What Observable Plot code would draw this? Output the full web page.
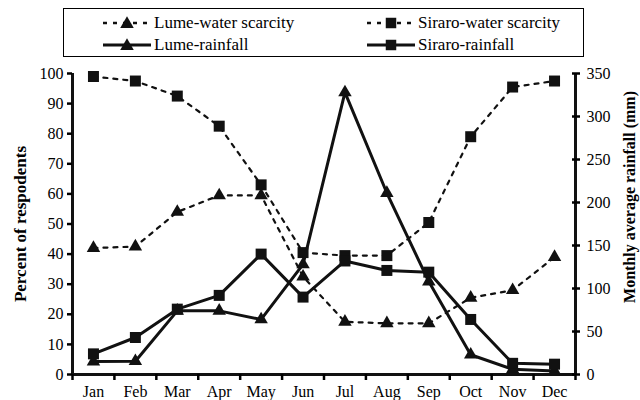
<!DOCTYPE html>
<html>
<head>
<meta charset="utf-8">
<script src="https://cdn.jsdelivr.net/npm/d3@7"></script>
<script src="https://cdn.jsdelivr.net/npm/@observablehq/plot@0.6"></script>
<style>
  body { margin: 0; background: #fff; font-family: "Liberation Serif", "Times New Roman", serif; }
  #wrap { width: 640px; }
  #legend { position: relative; width: 640px; height: 62px; }
  #legend .box { position: absolute; left: 63px; top: 8px; width: 521px; height: 49px; border: 1.5px solid #000; box-sizing: border-box; }
  #legend .item { position: absolute; display: flex; align-items: center; font-family: "Liberation Serif", "Times New Roman", serif; font-size: 17px; color: #000; height: 20px; }
  #legend svg { display: block; margin-right: 3px; }
  #chart svg, #chart svg text { font-family: "Liberation Serif", "Times New Roman", serif; }
</style>
</head>
<body>
<div id="wrap">
  <div id="legend"><div class="box"></div></div>
  <div id="chart"></div>
</div>
<script>
const months = ["Jan","Feb","Mar","Apr","May","Jun","Jul","Aug","Sep","Oct","Nov","Dec"];
// Percent of respondents reporting water scarcity
const lumeScarcity   = [42, 42.5, 54, 59.5, 59.5, 32.5, 17.5, 17, 17, 25.5, 28, 39];
const siraroScarcity = [99, 97.5, 92.5, 82.5, 63, 40.5, 39.5, 39.5, 50.5, 79, 95.5, 97.5];
// Monthly average rainfall (mm)
const lumeRain   = [15, 15.5, 74, 74, 64, 128, 328, 211, 108, 23, 6, 4];
const siraroRain = [24, 43, 76, 92, 140, 90, 132, 121, 119, 64, 13, 12];
const pctTicks  = [0,10,20,30,40,50,60,70,80,90,100];
const rainTicks = [0,50,100,150,200,250,300,350];
const rainMax = 350, pctMax = 100;

const series = [
  {name: "Lume-water scarcity",   key: "ls", symbol: "triangle", dashed: true},
  {name: "Siraro-water scarcity", key: "ss", symbol: "square",   dashed: true},
  {name: "Lume-rainfall",         key: "lr", symbol: "triangle", dashed: false},
  {name: "Siraro-rainfall",       key: "sr", symbol: "square",   dashed: false}
];

const toPct = v => v * pctMax / rainMax;
const table = months.map((m, i) => ({
  i: i + 1, m,
  ls: lumeScarcity[i], ss: siraroScarcity[i],
  lr: toPct(lumeRain[i]), sr: toPct(siraroRain[i])
}));
const xDomain = [0.5, months.length + 0.5];
const edges = d3.range(0, months.length + 1).map(k => k + 0.5);
const centers = months.map((m, i) => i + 1);
const FONT = '"Liberation Serif", "Times New Roman", serif';

const marks = [];
for (const s of series) {
  marks.push(Plot.line(table, {
    x: "i", y: s.key, stroke: "#111",
    strokeWidth: s.dashed ? 2.2 : 3,
    strokeDasharray: s.dashed ? "4,6" : null
  }));
}
for (const s of series) {
  marks.push(Plot.dot(table, {
    x: "i", y: s.key, symbol: s.symbol, fill: "#111", stroke: "none",
    r: s.symbol === "square" ? 6.2 : 5
  }));
}

const chart = Plot.plot({
  width: 640,
  height: 338,
  marginTop: 11,
  marginBottom: 26,
  marginLeft: 72,
  marginRight: 65,
  style: {fontFamily: FONT, fontSize: "16px", color: "#000", background: "#fff", overflow: "visible"},
  x: {type: "linear", domain: xDomain},
  y: {domain: [0, pctMax]},
  marks: [
    ...marks,
    Plot.ruleY([0], {stroke: "#111", strokeWidth: 3}),
    Plot.ruleX(xDomain, {y1: 0, y2: pctMax, stroke: "#111", strokeWidth: 3}),
    Plot.axisX({ticks: centers, tickFormat: i => months[i - 1], tickSize: 0, tickPadding: 11, label: null, fontSize: 16}),
    Plot.axisX({ticks: edges, tickFormat: () => "", tickSize: 6, strokeWidth: 2.5, label: null}),
    Plot.axisY({anchor: "left", ticks: pctTicks, tickSize: 5, tickPadding: 4, strokeWidth: 2.5, label: null, fontSize: 16}),
    Plot.axisY({anchor: "right", ticks: rainTicks.map(toPct), tickSize: 8, dx: -4, strokeWidth: 2.5, tickFormat: () => "", label: null}),
    Plot.axisY({anchor: "right", ticks: rainTicks.map(toPct), tickSize: 0, tickPadding: 11, tickFormat: d => Math.round(d * rainMax / pctMax), label: null, fontSize: 16}),
    Plot.text(["Percent of respodents"], {frameAnchor: "left", textAnchor: "middle", dx: -52, rotate: -90, fontWeight: "bold", fontSize: 17, text: d => d}),
    Plot.text(["Monthly average rainfall (mm)"], {frameAnchor: "right", textAnchor: "middle", dx: 54, dy: -27, rotate: -90, fontWeight: "bold", fontSize: 16, text: d => d})
  ]
});
document.getElementById("chart").appendChild(chart);

// Legend
const legend = document.getElementById("legend");
const pos = [
  {left: 103, top: 13}, {left: 367, top: 13},
  {left: 103, top: 35}, {left: 367, top: 35}
];
series.forEach((s, k) => {
  const div = document.createElement("div");
  div.className = "item";
  div.style.left = pos[k].left + "px";
  div.style.top = pos[k].top + "px";
  const ns = "http://www.w3.org/2000/svg";
  const svg = document.createElementNS(ns, "svg");
  svg.setAttribute("width", 48); svg.setAttribute("height", 16);
  const line = document.createElementNS(ns, "line");
  line.setAttribute("x1", 0); line.setAttribute("x2", 48);
  line.setAttribute("y1", 8); line.setAttribute("y2", 8);
  line.setAttribute("stroke", "#111");
  line.setAttribute("stroke-width", s.dashed ? 2.5 : 3);
  if (s.dashed) line.setAttribute("stroke-dasharray", "4,6");
  svg.appendChild(line);
  const sym = document.createElementNS(ns, "path");
  const gen = d3.symbol(s.symbol === "square" ? d3.symbolSquare : d3.symbolTriangle, s.symbol === "square" ? 110 : 80);
  sym.setAttribute("d", gen());
  sym.setAttribute("transform", s.symbol === "square" ? "translate(24,8)" : "translate(24,9)");
  sym.setAttribute("fill", "#111");
  svg.appendChild(sym);
  div.appendChild(svg);
  const span = document.createElement("span");
  span.textContent = s.name;
  div.appendChild(span);
  legend.appendChild(div);
});
</script>
</body>
</html>
